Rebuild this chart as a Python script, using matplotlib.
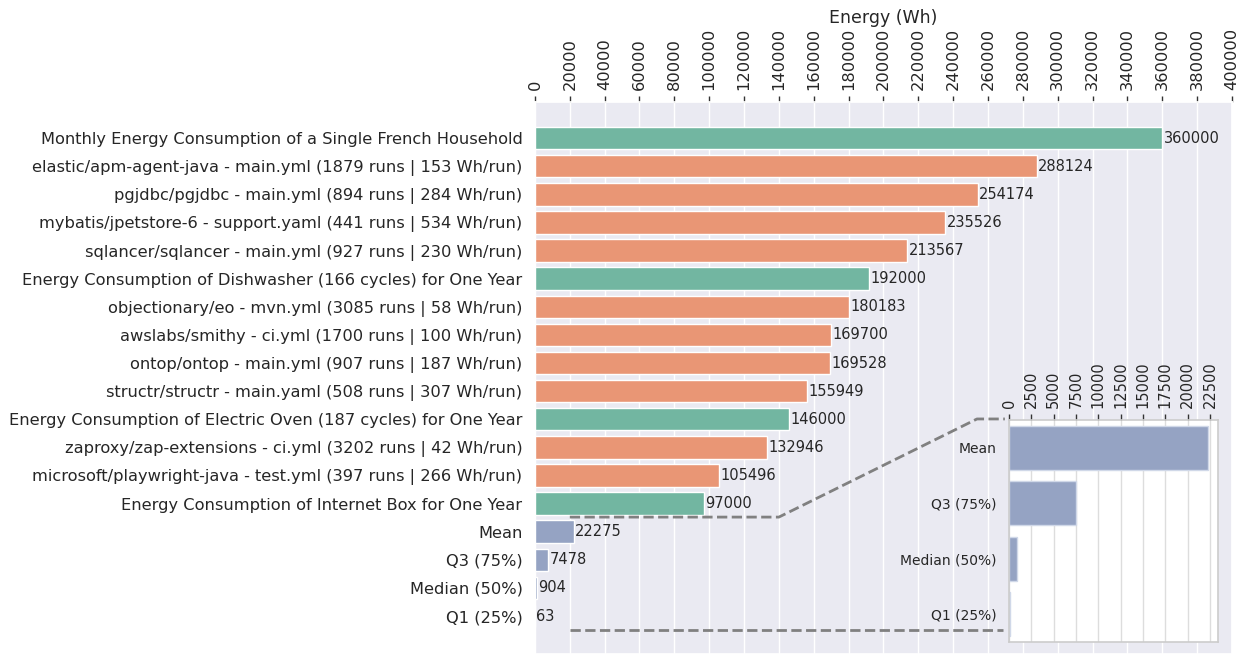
import numpy as np
import matplotlib
matplotlib.use('Agg')
import matplotlib.pyplot as plt
import seaborn as sns

sns.set_theme(style='darkgrid')
plt.rcParams['font.family'] = ['DejaVu Sans']

labels = [
    'Monthly Energy Consumption of a Single French Household',
    'elastic/apm-agent-java - main.yml (1879 runs | 153 Wh/run)',
    'pgjdbc/pgjdbc - main.yml (894 runs | 284 Wh/run)',
    'mybatis/jpetstore-6 - support.yaml (441 runs | 534 Wh/run)',
    'sqlancer/sqlancer - main.yml (927 runs | 230 Wh/run)',
    'Energy Consumption of Dishwasher (166 cycles) for One Year',
    'objectionary/eo - mvn.yml (3085 runs | 58 Wh/run)',
    'awslabs/smithy - ci.yml (1700 runs | 100 Wh/run)',
    'ontop/ontop - main.yml (907 runs | 187 Wh/run)',
    'structr/structr - main.yaml (508 runs | 307 Wh/run)',
    'Energy Consumption of Electric Oven (187 cycles) for One Year',
    'zaproxy/zap-extensions - ci.yml (3202 runs | 42 Wh/run)',
    'microsoft/playwright-java - test.yml (397 runs | 266 Wh/run)',
    'Energy Consumption of Internet Box for One Year',
    'Mean',
    'Q3 (75%)',
    'Median (50%)',
    'Q1 (25%)',
]
values = [360000, 288124, 254174, 235526, 213567, 192000, 180183, 169700,
          169528, 155949, 146000, 132946, 105496, 97000, 22275, 7478, 904, 63]
kinds = ['ref', 'wf', 'wf', 'wf', 'wf', 'ref', 'wf', 'wf', 'wf', 'wf',
         'ref', 'wf', 'wf', 'ref', 'stat', 'stat', 'stat', 'stat']

stat_labels = labels[14:]
stat_values = values[14:]

pal = sns.color_palette('Set2')
kind_colors = {'ref': sns.desaturate(pal[0], 0.75),
               'wf': sns.desaturate(pal[1], 0.75),
               'stat': sns.desaturate(pal[2], 0.75)}
colors = [kind_colors[k] for k in kinds]

fig = plt.figure(figsize=(12.49, 6.65), dpi=100)
ax = fig.add_axes([0.4283, 0.0165, 0.558, 0.830])

y = np.arange(len(labels))
bars = ax.barh(y, values, height=0.8, color=colors, edgecolor='white', linewidth=1)
ax.bar_label(bars, labels=[str(v) for v in values], padding=1, fontsize=10.5)
ax.set_yticks(y)
ax.set_yticklabels(labels, fontsize=11.7)
ax.set_ylim(18.35, -1.28)
ax.set_xlim(0, 400000)
ax.set_xticks(np.arange(0, 400001, 20000))
ax.xaxis.tick_top()
ax.xaxis.set_label_position('top')
ax.tick_params(axis='x', labelrotation=90, labelsize=11.7, length=4, width=1,
               color='#333333', pad=5, bottom=False, top=True)
ax.tick_params(axis='y', length=0, pad=9)
ax.set_xlabel('Energy (Wh)', fontsize=12.5, labelpad=3)
ax.grid(axis='y', visible=False)

# inset with the summary statistics
ins = fig.add_axes([0.8079, 0.0346, 0.1673, 0.3338])
ins.set_facecolor('white')
yi = np.arange(len(stat_labels))
ins.barh(yi, stat_values, height=0.8, color=kind_colors['stat'],
         edgecolor='#d0d8e8', linewidth=1)
ins.set_yticks(yi)
ins.set_yticklabels(stat_labels, fontsize=10)
ins.set_ylim(3.5, -0.5)
ins.set_xlim(0, stat_values[0] * 1.05)
ins.set_xticks(np.arange(0, 22501, 2500))
ins.xaxis.tick_top()
ins.tick_params(axis='x', labelrotation=90, labelsize=10.5, length=4.5, width=1,
                color='#333333', pad=4.5, bottom=False, top=True)
ins.tick_params(axis='y', length=0, pad=9)
ins.grid(axis='x', color='#dddddd', linewidth=1)
ins.grid(axis='y', visible=False)
for s in ins.spines.values():
    s.set_visible(True)
    s.set_color('#cccccc')
    s.set_linewidth(1.2)

# dashed connector lines from the stats rows to the inset
ax.plot([20000, 140000, 253700, 269700], [13.48, 13.48, 9.99, 9.99],
        ls='--', color='gray', lw=2, clip_on=False, zorder=5)
ax.plot([20000, 268400], [17.5, 17.5], ls='--', color='gray', lw=2,
        clip_on=False, zorder=5)

fig.savefig('out.png', dpi=100)
